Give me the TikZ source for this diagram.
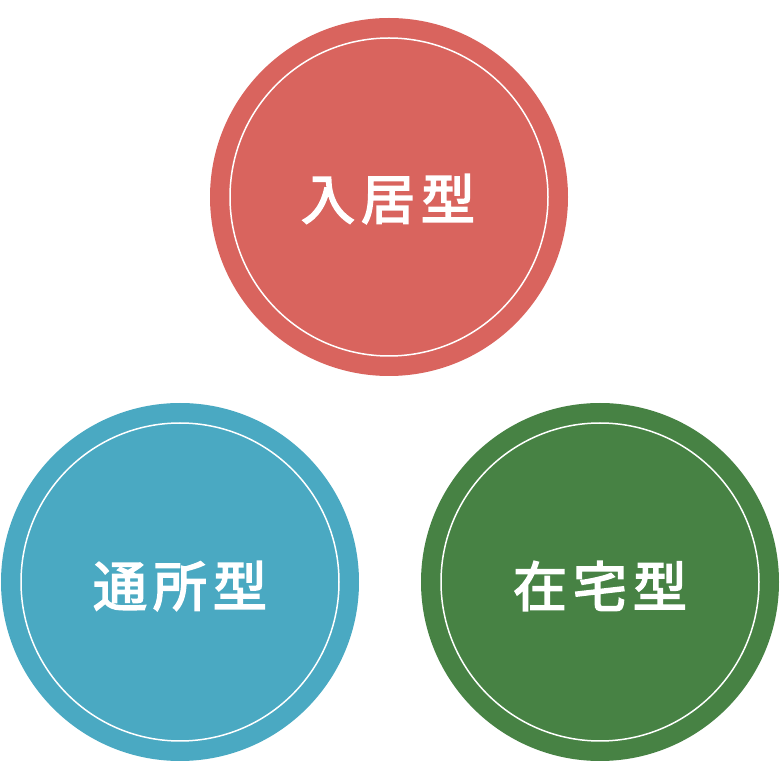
\documentclass[tikz,border=0pt]{standalone}
\usepackage{fontspec}
\newfontfamily\cjk{Noto Sans CJK JP}[FakeBold=3]
\definecolor{cred}{HTML}{D9645E}
\definecolor{cblue}{HTML}{4AA9C2}
\definecolor{cgreen}{HTML}{478244}
\newcommand{\gap}{\hspace{6pt}}
\begin{document}
\begin{tikzpicture}[x=1pt,y=1pt,
  disc/.style={circle,minimum size=358pt,inner sep=0pt,draw=none},
  ring/.style={draw=white,line width=1.5pt},
  lbl/.style={text=white,font=\cjk\fontsize{54}{60}\selectfont}]
\useasboundingbox (0,0) rectangle (780,780);
\node[disc,fill=cred] (top) at (389,583) {};
\node[disc,fill=cblue] (left) at (180,198) {};
\node[disc,fill=cgreen] (right) at (600,198) {};
\draw[ring] (top.center) circle (159);
\draw[ring] (left.center) circle (159);
\draw[ring] (right.center) circle (159);
\node[lbl] (t1) at (388,581) {入\gap 居\gap 型};
\node[lbl] (t2) at (180,194) {通\gap 所\gap 型};
\node[lbl] (t3) at (600,194) {在\gap 宅\gap 型};
\end{tikzpicture}
\end{document}
